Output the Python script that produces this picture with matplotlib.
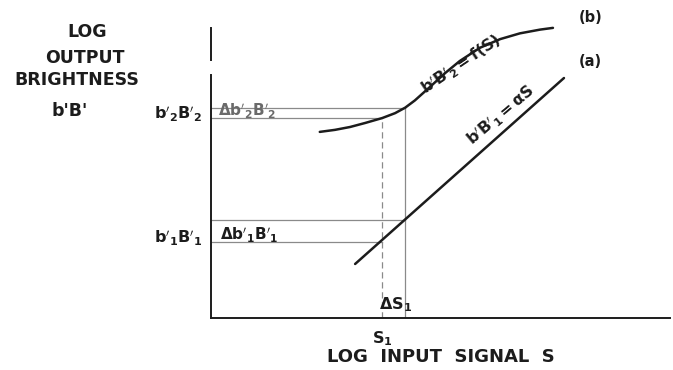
import numpy as np
import matplotlib.pyplot as plt

# values (arbitrary log units, 0..10)
s1 = 3.73            # S1
s1_ds = 4.23         # S1 + delta S1
b1_lo, b1_hi = 2.64, 3.40     # b1'B1' and b1'B1' + delta
b2_lo, b2_hi = 6.94, 7.30     # b2'B2' and b2'B2' + delta

# curve (a): straight line b'B1' = aS
line_a_s = [3.14, 7.69]
line_a_b = [1.875, 8.33]

# curve (b): b'B2' = f(S)
curve_b_s = [2.37, 2.70, 3.03, 3.36, 3.73, 4.01, 4.23, 4.44, 4.77, 5.10,
             5.42, 5.86, 6.30, 6.73, 7.17, 7.45]
curve_b_b = [6.46, 6.53, 6.63, 6.77, 6.94, 7.11, 7.30, 7.55, 8.02, 8.50,
             8.92, 9.38, 9.68, 9.88, 10.01, 10.07]

ink = '#1c1c1c'
guide = '#8a8a8a'
font = dict(fontweight='bold', color=ink)

fig = plt.figure(figsize=(6.73, 3.70), dpi=100)
ax = fig.add_axes([211/673, 52/370, 459/673, 293/370])
ax.set_xlim(0, 10.0)
ax.set_ylim(0, 10.17)

for side in ['top', 'right']:
    ax.spines[side].set_visible(False)
for side in ['left', 'bottom']:
    ax.spines[side].set_linewidth(1.4)
    ax.spines[side].set_color(ink)
ax.spines['left'].set_bounds(0, 8.44)
ax.plot([0, 0], [8.96, 10.07], color=ink, lw=1.4, clip_on=False)

# guide lines
ax.plot([0, s1_ds], [b2_hi, b2_hi], color=guide, lw=0.9)
ax.plot([0, s1], [b2_lo, b2_lo], color=guide, lw=0.9)
ax.plot([0, s1_ds], [b1_hi, b1_hi], color=guide, lw=0.9)
ax.plot([0, s1], [b1_lo, b1_lo], color=guide, lw=0.9)
ax.plot([s1, s1], [0, b2_lo], color=guide, lw=0.9, ls=(0, (5, 3)))
ax.plot([s1_ds, s1_ds], [0, b2_hi], color=guide, lw=0.9)

# characteristics
ax.plot(line_a_s, line_a_b, color=ink, lw=1.8, solid_capstyle='round')
ax.plot(curve_b_s, curve_b_b, color=ink, lw=1.8, solid_capstyle='round',
        solid_joinstyle='round', clip_on=False)

# ticks
ax.set_xticks([s1])
ax.set_xticklabels([r'$\mathbf{S_1}$'], fontsize=11.5, color=ink)
ax.set_yticks([b1_lo, b2_lo])
ax.set_yticklabels([r"$\mathbf{b'_1B'_1}$", r"$\mathbf{b'_2B'_2}$"], fontsize=11.5, color=ink)
ax.tick_params(axis='both', length=0)
ax.tick_params(axis='x', pad=8)
ax.tick_params(axis='y', pad=6)
for lab in ax.get_yticklabels():
    lab.set_verticalalignment('baseline')

ax.set_xlabel('LOG  INPUT  SIGNAL  S', fontsize=13, labelpad=0, **font)

# y axis caption
for txt, yy, xx in [('LOG', 9.92, -2.70), ('OUTPUT', 9.04, -2.74),
                    ('BRIGHTNESS', 8.25, -2.93), ("b'B'", 7.20, -3.08)]:
    ax.text(xx, yy, txt, fontsize=12.5, ha='center', va='center', clip_on=False, **font)

# annotations
ax.text(0.15, b2_lo + 0.05, r"$\mathbf{\Delta b'_2B'_2}$", fontsize=11, color='#6a6a6a', va='baseline')
ax.text(0.2, b1_lo + 0.05, r"$\mathbf{\Delta b'_1B'_1}$", fontsize=11, color=ink, va='baseline')
ax.text(4.02, 0.48, r"$\mathbf{\Delta S_1}$", fontsize=11.5, color=ink, ha='center', va='center')
ax.text(5.45, 8.84, r"$\mathbf{b'B'_2 = f(S)}$", fontsize=11.5, color=ink, rotation=34,
        ha='center', va='center', clip_on=False)
ax.text(6.30, 7.05, r"$\mathbf{b'B'_1 = \alpha S}$", fontsize=11.5, color=ink, rotation=40,
        ha='center', va='center')
ax.text(8.26, 10.42, '(b)', fontsize=10.5, ha='center', va='center', clip_on=False, **font)
ax.text(8.26, 8.89, '(a)', fontsize=10.5, ha='center', va='center', **font)

fig.savefig('out.png', dpi=100, facecolor='white')
